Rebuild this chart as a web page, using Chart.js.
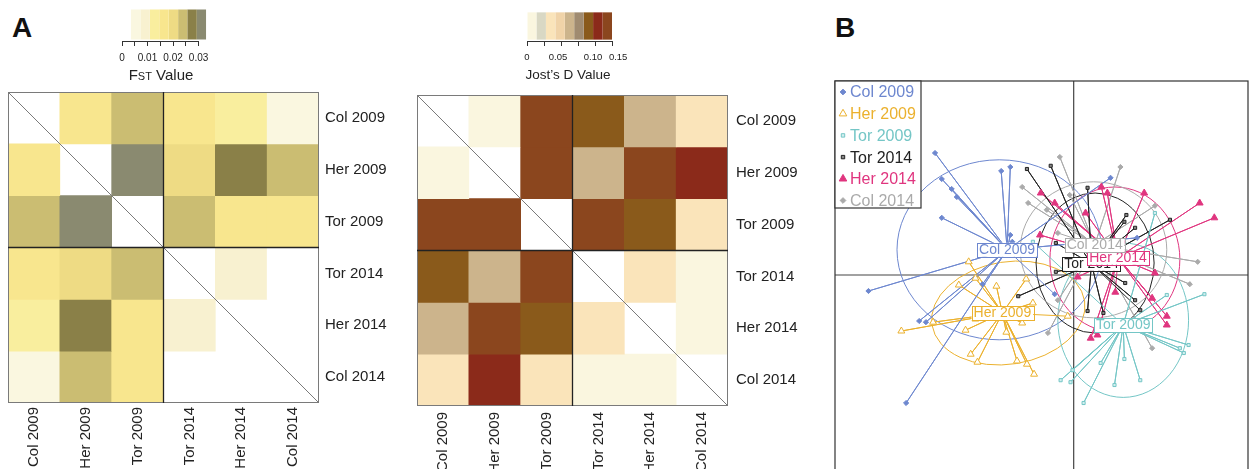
<!DOCTYPE html>
<html>
<head>
<meta charset="utf-8">
<script src="https://cdn.jsdelivr.net/npm/chart.js@4.4.1/dist/chart.umd.min.js"></script>
<style>
  body { margin: 0; width: 1253px; height: 469px; overflow: hidden; position: relative; background: #fff;
         font-family: "Liberation Sans", Arial, sans-serif; color: #222; }
  canvas, .txt { position: absolute; }
  .letter { font-size: 28px; font-weight: bold; line-height: 28px; color: #111; }
  .keytitle { text-align: center; width: 110px; white-space: nowrap; }
</style>
</head>
<body>
<div class="txt letter" style="left:12px; top:14px">A</div>
<div class="txt letter" style="left:835px; top:14px">B</div>

<canvas id="fstMap" width="410" height="469" style="left:0; top:0"></canvas>
<canvas id="jostMap" width="420" height="469" style="left:405px; top:0"></canvas>
<canvas id="fstKey" width="130" height="66" style="left:100px; top:0"></canvas>
<canvas id="jostKey" width="140" height="66" style="left:500px; top:0"></canvas>
<div class="txt keytitle" style="left:106px; top:67px; font-size:15px; line-height:15px">F<span style="font-size:11px">ST</span> Value</div>
<div class="txt keytitle" style="left:513px; top:68px; font-size:13.5px; line-height:13.5px">Jost’s D Value</div>

<canvas id="dapc" width="433" height="520" style="left:820px; top:0"></canvas>

<script>
// ---- panel A data ----
const popLabels = ['Col 2009', 'Her 2009', 'Tor 2009', 'Tor 2014', 'Her 2014', 'Col 2014'];

// pairwise FST (rows top->bottom, columns left->right), diagonal empty
const fstValues = [
  [null, 0.016, 0.024, 0.016, 0.013, 0.005],
  [0.016, null, 0.031, 0.020, 0.027, 0.024],
  [0.024, 0.031, null, 0.024, 0.016, 0.016],
  [0.016, 0.020, 0.024, null, 0.009, 0.001],
  [0.013, 0.027, 0.016, 0.009, null, 0.000],
  [0.005, 0.024, 0.016, 0.001, 0.000, null]
];
const fstBreaks = [0.0035, 0.0072, 0.0109, 0.0146, 0.0183, 0.0220, 0.0256, 0.0293, 0.0330];
const fstColours = ['#faf7e0', '#f8f1d0', '#f9ee9e', '#f8e68e', '#eedb84', '#cbbd72', '#8a8048', '#8a8a70'];
const fstTickValues = [0, 0.005, 0.01, 0.015, 0.02, 0.025, 0.03];
const fstLabelValues = [0, 0.01, 0.02, 0.03];
const fstLabelTexts = ['0', '0.01', '0.02', '0.03'];

// pairwise Jost's D
const jostValues = [
  [null, 0.008, 0.118, 0.090, 0.062, 0.035],
  [0.008, null, 0.118, 0.062, 0.118, 0.104],
  [0.118, 0.118, null, 0.118, 0.090, 0.035],
  [0.090, 0.062, 0.118, null, 0.035, 0.008],
  [0.062, 0.118, 0.090, 0.035, null, 0.008],
  [0.035, 0.104, 0.035, 0.008, 0.008, null]
];
const jostBreaks = [0, 0.0139, 0.0278, 0.0417, 0.0556, 0.0694, 0.0833, 0.0972, 0.1111, 0.125];
const jostColours = ['#faf6df', '#d9d8c4', '#fae4ba', '#f0d3a8', '#ccb48c', '#a08b70', '#8a5a1b', '#8b2a1a', '#8b461e'];
const jostTickValues = [0, 0.025, 0.05, 0.075, 0.1, 0.125];
// label positions as printed in the key (they sit a little off the tick marks)
const jostLabelValues = [0, 0.0456, 0.097, 0.134];
const jostLabelTexts = ['0', '0.05', '0.10', '0.15'];

// ---- panel B data (DAPC scores) ----
const groupNames = ['Col 2009', 'Her 2009', 'Tor 2009', 'Tor 2014', 'Her 2014', 'Col 2014'];
const groupCentres = [[-1.68, 0.63], [-1.80, -0.95], [1.25, -1.25], [0.45, 0.28], [1.12, 0.43], [0.53, 0.75]];
const col2009Pts = [[-3.50, 3.05], [-3.33, 2.40], [-3.08, 2.15], [-2.95, 1.95], [-3.33, 1.43], [-1.83, 2.60],
  [-1.60, 2.70], [-1.60, 1.00], [-1.55, 0.83], [0.93, 2.43], [-5.18, -0.40], [-3.90, -1.15], [-3.73, -1.18],
  [-4.23, -3.20], [-2.30, -0.23], [1.60, 0.93], [-0.48, -0.48]];
const her2009Pts = [[-2.90, -0.25], [-2.48, -0.08], [-1.95, -0.28], [-1.20, -0.10], [-1.03, -0.70], [-1.30, -1.20],
  [-1.70, -1.43], [-2.48, -1.10], [-2.73, -1.38], [-3.55, -1.18], [-4.35, -1.40], [-2.60, -1.98], [-2.43, -2.18],
  [-1.43, -2.15], [-1.18, -2.23], [-1.00, -2.48], [-2.65, 0.33], [-0.15, -1.03]];
const tor2009Pts = [[2.35, -0.50], [3.30, -0.48], [2.90, -1.75], [2.78, -1.95], [2.68, -1.83], [1.68, -2.63],
  [1.28, -2.10], [1.03, -2.75], [0.68, -2.20], [-0.03, -2.38], [-0.08, -2.68], [-0.33, -2.63], [0.25, -3.20],
  [2.05, 1.55], [-1.03, 0.83]];
const tor2014Pts = [[-1.18, 2.65], [-0.58, 2.73], [0.35, 2.18], [1.33, 1.50], [1.28, 1.33], [1.55, 1.18],
  [2.43, 1.38], [-0.45, 0.80], [-0.45, 0.08], [-1.40, -0.53], [0.35, -0.90], [0.75, -0.95], [1.30, -0.20],
  [1.55, -0.63], [1.68, -0.88]];
const her2014Pts = [[-0.83, 2.05], [-0.48, 1.80], [0.30, 1.55], [0.70, 2.20], [0.85, 2.05], [1.78, 2.05],
  [3.18, 1.80], [3.55, 1.43], [-0.85, 1.00], [1.98, -0.58], [2.35, -1.03], [2.35, -1.25], [0.43, -1.58],
  [0.60, -1.50], [0.10, -0.05], [2.05, 0.05], [1.05, -0.43]];
const col2014Pts = [[-0.35, 2.95], [1.18, 2.70], [-1.30, 2.20], [-1.15, 1.80], [-0.68, 1.63], [-0.10, 2.00],
  [2.05, 1.73], [3.13, 0.33], [2.93, -0.23], [1.98, -1.83], [-0.65, -1.45], [-0.40, -0.63], [-0.40, 1.05]];
const groupPoints = [col2009Pts, her2009Pts, tor2009Pts, tor2014Pts, her2014Pts, col2014Pts];

// inertia ellipses: centre, half axes, tilt in degrees
const ellipseCentres = [[-1.88, 0.63], [-1.65, -0.95], [1.25, -1.13], [0.54, 0.30], [1.04, 0.39], [0.50, 0.63]];
const ellipseRadii = [[2.58, 2.25], [1.95, 1.28], [1.65, 1.93], [1.49, 1.75], [1.64, 1.81], [1.85, 1.70]];
const ellipseAngles = [0, 9, 0, 0, 0, 0];

// styles per group
const groupColours = ['#6d87cf', '#ebb12e', '#74c6c6', '#222222', '#e0357f', '#aaaaaa'];
const groupFills = ['#6d87cf', '#ffffff', '#d4efef', '#888888', '#e0357f', '#aaaaaa'];
const groupMarkers = ['rectRot', 'triangle', 'rect', 'rect', 'triangle', 'rectRot'];
const groupMarkerSize = [2.6, 4, 2.2, 2.2, 4, 2.6];

Chart.defaults.font.family = '"Liberation Sans", Arial, sans-serif';
Chart.defaults.color = '#222';

function binColour(v, breaks, colours) {
  if (v === null) return null;
  if (v < breaks[0]) return '#ffffff';
  for (var i = 0; i < colours.length; i++) {
    if (v < breaks[i + 1]) return colours[i];
  }
  return colours[colours.length - 1];
}

// border, diagonal and the 2009/2014 split
const matrixLines = {
  id: 'matrixLines',
  afterDatasetsDraw(chart) {
    const {ctx, chartArea: a, scales: {x, y}} = chart;
    ctx.save();
    ctx.strokeStyle = '#7a7a7a';
    ctx.lineWidth = 1;
    ctx.beginPath();
    ctx.moveTo(a.left, a.top);
    ctx.lineTo(a.right, a.bottom);
    ctx.stroke();
    ctx.strokeRect(a.left + 0.5, a.top + 0.5, a.width - 1, a.height - 1);
    var sx = x.getPixelForValue(2.5), sy = y.getPixelForValue(3);
    ctx.strokeStyle = '#222';
    ctx.lineWidth = 1.3;
    ctx.beginPath();
    ctx.moveTo(sx, a.top); ctx.lineTo(sx, a.bottom);
    ctx.moveTo(a.left, sy); ctx.lineTo(a.right, sy);
    ctx.stroke();
    ctx.restore();
  }
};

function heatmap(id, values, breaks, colours, pad, axisW, axisH, yPad, xPad) {
  new Chart(document.getElementById(id), {
    type: 'bar',
    data: {
      labels: popLabels,
      datasets: values.map(function (row, i) {
        return {
          data: row.map(v => v === null ? null : [i, i + 1]),
          backgroundColor: row.map(v => binColour(v, breaks, colours)),
          grouped: false,
          barPercentage: 1,
          categoryPercentage: 1,
          borderWidth: 0
        };
      })
    },
    options: {
      responsive: false,
      animation: false,
      events: [],
      layout: { padding: pad },
      plugins: { legend: { display: false }, tooltip: { enabled: false } },
      scales: {
        x: {
          grid: { display: false, drawTicks: false },
          border: { display: false },
          ticks: { autoSkip: false, minRotation: 90, maxRotation: 90, padding: xPad,
                   font: { size: 15 }, color: '#222' },
          afterFit: s => { s.height = axisH; }
        },
        y: {
          type: 'linear',
          position: 'right',
          min: 0, max: 6,
          reverse: true,
          grid: { display: false, drawTicks: false },
          border: { display: false },
          afterBuildTicks: s => { s.ticks = popLabels.map((_, i) => ({ value: i + 0.5 })); },
          ticks: { padding: yPad, font: { size: 15 }, color: '#222',
                   callback: v => popLabels[Math.floor(v)] },
          afterFit: s => { s.width = axisW; }
        }
      }
    },
    plugins: [matrixLines]
  });
}

// axis line of the colour keys, from first to last tick
const keyAxisLine = {
  id: 'keyAxisLine',
  afterDraw(chart) {
    const {ctx, chartArea: a, scales: {x}} = chart;
    var t = x.ticks;
    ctx.save();
    ctx.strokeStyle = '#333';
    ctx.lineWidth = 1;
    ctx.beginPath();
    ctx.moveTo(x.getPixelForValue(t[0].value), a.bottom + 0.5);
    ctx.lineTo(x.getPixelForValue(t[t.length - 1].value), a.bottom + 0.5);
    ctx.stroke();
    ctx.restore();
  }
};

function colourKey(id, breaks, colours, tickValues, labelValues, labelTexts, maxV, pad, fontSize) {
  new Chart(document.getElementById(id), {
    type: 'bar',
    data: {
      labels: ['key'],
      datasets: colours.map((c, i) => ({
        data: [[breaks[i], breaks[i + 1]]],
        backgroundColor: c,
        grouped: false,
        barPercentage: 0.91,
        categoryPercentage: 1,
        borderWidth: 0,
        xAxisID: 'x'
      }))
    },
    options: {
      indexAxis: 'y',
      responsive: false,
      animation: false,
      events: [],
      layout: { padding: pad },
      plugins: { legend: { display: false }, tooltip: { enabled: false } },
      scales: {
        x: {
          type: 'linear',
          position: 'bottom',
          weight: 0,
          min: 0, max: maxV,
          afterBuildTicks: s => { s.ticks = tickValues.map(v => ({ value: v })); },
          grid: { drawOnChartArea: false, drawTicks: true, tickLength: 5, color: '#333' },
          border: { display: false },
          ticks: { display: false },
          afterFit: s => { s.height = 5; }
        },
        xl: {
          type: 'linear',
          position: 'bottom',
          weight: 1,
          min: 0, max: maxV,
          afterBuildTicks: s => { s.ticks = labelValues.map(v => ({ value: v })); },
          grid: { display: false, drawTicks: false },
          border: { display: false },
          ticks: { padding: 6, font: { size: fontSize }, color: '#222', maxRotation: 0, autoSkip: false,
                   callback: (v, i) => labelTexts[i] },
          afterFit: s => { s.height = 20; }
        },
        y: { display: false }
      }
    },
    plugins: [keyAxisLine]
  });
}

heatmap('fstMap', fstValues, fstBreaks, fstColours, { left: 8, top: 92, right: 0, bottom: 0 }, 91, 66, 6, 4);
heatmap('jostMap', jostValues, jostBreaks, jostColours, { left: 12, top: 95, right: 0, bottom: 0 }, 97, 63, 8, 6);
colourKey('fstKey', fstBreaks, fstColours, fstTickValues, fstLabelValues, fstLabelTexts, 0.033,
          { left: 22, right: 23.8, top: 8, bottom: 0 }, 10);
colourKey('jostKey', jostBreaks, jostColours, jostTickValues, jostLabelValues, jostLabelTexts, 0.125,
          { left: 27, right: 28, top: 11, bottom: 0 }, 9.5);

// ---- panel B ----
const dapcDecor = {
  id: 'dapcDecor',
  beforeDatasetsDraw(chart) {
    const {ctx, chartArea: a, scales: {x, y}} = chart;
    ctx.save();
    ctx.strokeStyle = '#444';
    ctx.lineWidth = 1.2;
    ctx.beginPath();
    ctx.moveTo(x.getPixelForValue(0), a.top); ctx.lineTo(x.getPixelForValue(0), a.bottom);
    ctx.moveTo(a.left, y.getPixelForValue(0)); ctx.lineTo(a.right, y.getPixelForValue(0));
    ctx.stroke();
    ctx.lineWidth = 1;
    ellipseCentres.forEach(function (c, g) {
      var cx = x.getPixelForValue(c[0]), cy = y.getPixelForValue(c[1]);
      var rx = Math.abs(x.getPixelForValue(c[0] + ellipseRadii[g][0]) - cx);
      var ry = Math.abs(y.getPixelForValue(c[1] + ellipseRadii[g][1]) - cy);
      ctx.strokeStyle = groupColours[g];
      ctx.beginPath();
      ctx.ellipse(cx, cy, rx, ry, -ellipseAngles[g] * Math.PI / 180, 0, 2 * Math.PI);
      ctx.stroke();
    });
    ctx.restore();
  },
  afterDatasetsDraw(chart) {
    const {ctx, chartArea: a, scales: {x, y}} = chart;
    ctx.save();
    // group labels at the centres
    ctx.font = '14px "Liberation Sans", Arial, sans-serif';
    ctx.textAlign = 'center';
    ctx.textBaseline = 'middle';
    groupCentres.forEach(function (c, g) {
      var px = x.getPixelForValue(c[0]), py = y.getPixelForValue(c[1]);
      var w = ctx.measureText(groupNames[g]).width;
      ctx.fillStyle = '#fff';
      ctx.fillRect(px - w / 2 - 2, py - 7, w + 4, 14);
      ctx.strokeStyle = groupColours[g];
      ctx.lineWidth = 1;
      ctx.strokeRect(Math.round(px - w / 2 - 2) + 0.5, Math.round(py - 7) + 0.5, Math.round(w + 4), 14);
      ctx.fillStyle = groupColours[g];
      ctx.fillText(groupNames[g], px, py + 0.5);
    });
    // frame
    ctx.strokeStyle = '#333';
    ctx.lineWidth = 1.2;
    ctx.strokeRect(a.left, a.top, a.width, a.height);
    // legend box
    ctx.fillStyle = '#fff';
    ctx.fillRect(a.left, a.top, 86, 127);
    ctx.strokeRect(a.left, a.top, 86, 127);
    ctx.font = '16px "Liberation Sans", Arial, sans-serif';
    ctx.textAlign = 'left';
    groupNames.forEach(function (n, g) {
      var ly = a.top + 11 + g * 21.7;
      ctx.fillStyle = groupFills[g];
      ctx.strokeStyle = groupColours[g];
      ctx.lineWidth = 1;
      Chart.helpers.drawPoint(ctx, { pointStyle: groupMarkers[g], radius: groupMarkerSize[g] * 1.1,
                                     rotation: 0, borderWidth: 1 }, a.left + 8, ly);
      ctx.fillStyle = groupColours[g];
      ctx.fillText(n, a.left + 15, ly + 1);
    });
    ctx.restore();
  }
};

const starSets = groupPoints.map((pts, g) => ({
  type: 'line',
  data: pts.flatMap(p => [{ x: groupCentres[g][0], y: groupCentres[g][1] }, { x: p[0], y: p[1] }]),
  borderColor: groupColours[g],
  borderWidth: 1,
  borderJoinStyle: 'round',
  pointRadius: 0,
  fill: false,
  tension: 0,
  order: 1
}));
const pointSets = groupPoints.map((pts, g) => ({
  type: 'scatter',
  data: pts.map(p => ({ x: p[0], y: p[1] })),
  pointStyle: groupMarkers[g],
  pointRadius: groupMarkerSize[g],
  backgroundColor: groupFills[g],
  borderColor: groupColours[g],
  borderWidth: 1,
  order: 0
}));

new Chart(document.getElementById('dapc'), {
  type: 'scatter',
  data: { datasets: starSets.concat(pointSets) },
  options: {
    responsive: false,
    animation: false,
    events: [],
    layout: { padding: { left: 15, top: 81, right: 1, bottom: 20 } },
    plugins: { legend: { display: false }, tooltip: { enabled: false } },
    scales: {
      x: { type: 'linear', min: -6.025, max: 4.4, display: false },
      y: { type: 'linear', min: -5.625, max: 4.85, display: false }
    }
  },
  plugins: [dapcDecor]
});
</script>
</body>
</html>
